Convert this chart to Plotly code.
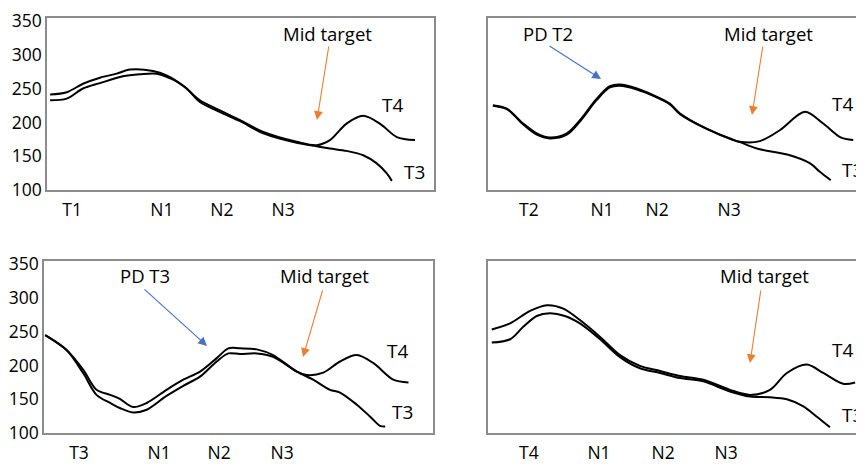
import plotly.graph_objects as go

# ---------------- data (x = relative position along the pathway, 0-100; y = value) ----------------
p1_x_a = [0.8, 5.1, 9.3, 13.7, 18.0, 21.4, 27.4, 30.9, 35.1, 39.5, 44.7, 49.9, 55.9, 64.5, 69.7, 73.1, 77.4, 81.7, 86.0, 90.4, 95.1]
p1_y_a = [241.5, 245.0, 257.5, 266.5, 272.5, 278.5, 276.5, 270.0, 255.0, 233.0, 218.0, 203.5, 186.0, 171.5, 166.5, 174.0, 198.5, 210.0, 198.5, 178.5, 174.0]
p1_x_b = [0.8, 5.1, 9.3, 13.7, 19.6, 24.0, 28.3, 32.6, 36.1, 39.5, 44.7, 49.9, 55.9, 64.5, 69.7, 73.1, 77.4, 81.7, 85.2, 87.8, 89.1]
p1_y_b = [233.0, 235.5, 250.5, 258.5, 268.5, 271.5, 272.5, 263.5, 250.5, 230.5, 215.5, 202.0, 184.0, 170.0, 165.0, 161.5, 158.0, 151.5, 139.5, 124.5, 113.5]
p1_ticks = [6.5, 29.7, 45.2, 61.0]
p1_text = ["T1", "N1", "N2", "N3"]

p2_x_a = [1.3, 5.0, 9.4, 13.0, 16.5, 21.0, 24.5, 29.0, 32.5, 35.2, 39.7, 44.1, 48.5, 51.2, 58.3, 65.4, 67.2, 72.5, 77.9, 84.5, 89.4, 93.9, 97.4]
p2_y_a = [225.5, 220.5, 198.5, 184.0, 178.0, 184.0, 203.5, 235.5, 254.0, 256.5, 250.5, 240.5, 228.0, 213.5, 191.0, 174.5, 171.5, 172.5, 189.0, 216.0, 198.5, 178.5, 174.0]
p2_x_b = [1.3, 5.0, 9.4, 13.0, 16.5, 21.0, 24.5, 29.0, 32.5, 35.2, 39.7, 44.1, 48.5, 51.2, 58.3, 65.4, 67.2, 71.7, 80.5, 85.9, 88.5, 91.4]
p2_y_b = [225.0, 220.0, 197.0, 182.0, 176.5, 182.0, 201.5, 233.5, 252.0, 254.5, 249.0, 239.5, 227.0, 212.5, 190.5, 174.0, 171.0, 161.5, 151.5, 139.5, 127.0, 114.5]
p2_ticks = [10.9, 30.4, 45.1, 64.3]
p2_text = ["T2", "N1", "N2", "N3"]

p3_x_a = [0.3, 5.8, 10.1, 13.5, 17.0, 19.5, 22.9, 26.4, 31.5, 35.8, 40.1, 44.4, 47.4, 50.4, 54.7, 58.9, 65.0, 67.5, 71.8, 76.1, 80.4, 84.7, 89.8, 93.7]
p3_y_a = [245.0, 223.0, 193.5, 164.0, 156.5, 150.5, 138.5, 144.5, 164.0, 179.0, 191.0, 211.0, 225.5, 225.5, 224.0, 215.5, 191.0, 186.0, 189.5, 206.0, 215.5, 203.5, 179.0, 175.0]
p3_x_b = [0.3, 5.8, 10.1, 13.5, 17.0, 19.5, 22.9, 26.4, 31.5, 35.8, 40.1, 44.4, 47.4, 50.4, 54.7, 58.9, 65.0, 69.2, 73.5, 76.1, 80.4, 83.8, 86.4, 87.7]
p3_y_b = [245.0, 223.0, 188.5, 156.5, 144.5, 137.0, 130.5, 134.5, 155.0, 170.0, 183.5, 206.0, 218.0, 217.0, 218.0, 213.0, 191.0, 179.0, 164.0, 160.0, 142.0, 124.5, 110.5, 109.5]
p3_ticks = [9.0, 29.6, 45.0, 61.2]
p3_text = ["T3", "N1", "N2", "N3"]

p4_x_a = [1.0, 5.9, 11.2, 15.7, 20.1, 24.5, 29.9, 35.2, 40.5, 45.9, 51.2, 57.4, 64.5, 69.9, 75.2, 79.7, 85.0, 89.4, 94.7, 97.9]
p4_y_a = [253.5, 262.5, 281.0, 289.5, 284.5, 267.5, 242.5, 215.5, 199.5, 192.0, 184.5, 179.0, 164.0, 156.5, 164.0, 189.0, 201.5, 189.0, 173.0, 175.0]
p4_x_b = [1.0, 5.9, 9.4, 13.0, 16.5, 20.5, 24.5, 29.9, 35.2, 40.5, 45.9, 51.2, 57.4, 64.5, 69.9, 75.2, 79.7, 84.1, 87.6, 91.2]
p4_y_b = [234.0, 239.0, 257.5, 273.5, 277.5, 273.5, 262.5, 239.0, 212.5, 196.0, 189.0, 181.5, 176.5, 161.5, 154.0, 153.0, 150.0, 139.5, 124.5, 108.5]
p4_ticks = [10.9, 29.6, 46.7, 63.5]
p4_text = ["T4", "N1", "N2", "N3"]

y_ticks = [100, 150, 200, 250, 300, 350]

# ---------------- figure ----------------
W, H = 864, 464
OFF = 8  # page body margin
FONT = "Open Sans"
fig = go.Figure()

def px2x(px):
    return (px - OFF) / W

def px2y(py):
    return 1 - (py - OFF) / H

panels = [
    (p1_x_a, p1_y_a, p1_x_b, p1_y_b, p1_ticks, p1_text, (47, 434), (18, 190), True),
    (p2_x_a, p2_y_a, p2_x_b, p2_y_b, p2_ticks, p2_text, (488, 863), (18, 190), False),
    (p3_x_a, p3_y_a, p3_x_b, p3_y_b, p3_ticks, p3_text, (44, 433), (261, 433), True),
    (p4_x_a, p4_y_a, p4_x_b, p4_y_b, p4_ticks, p4_text, (488, 863), (261, 433), False),
]

for i, (xa, ya, xb, yb, tv, tt, (x0, x1), (yt, yb_px), show_y) in enumerate(panels, start=1):
    xs = "" if i == 1 else str(i)
    for xx, yy in ((xa, ya), (xb, yb)):
        fig.add_trace(go.Scatter(x=xx, y=yy, mode="lines",
                                 line=dict(color="black", width=2, shape="spline", smoothing=0.9),
                                 xaxis="x" + xs, yaxis="y" + xs, showlegend=False, hoverinfo="skip"))
    fig.layout["xaxis" + xs] = dict(
        domain=[px2x(x0), min(1.0, px2x(x1))], range=[0, 100], anchor="y" + xs,
        automargin=False, ticklabeloverflow="allow",
        showgrid=False, zeroline=False, showline=True, mirror=True,
        linecolor="#8c8c8c", linewidth=1.5,
        tickvals=tv, ticktext=tt, ticks="outside", ticklen=3, tickcolor="rgba(0,0,0,0)",
        tickfont=dict(family=FONT, size=17.5, color="black"))
    fig.layout["yaxis" + xs] = dict(
        domain=[px2y(yb_px), px2y(yt)], range=[100, 355], anchor="x" + xs,
        automargin=False, ticklabeloverflow="allow",
        showgrid=False, zeroline=False, showline=True, mirror=True,
        linecolor="#8c8c8c", linewidth=1.5,
        tickvals=y_ticks if show_y else [], ticks="",
        showticklabels=show_y,
        tickfont=dict(family=FONT, size=17.5, color="black"))

ORANGE = "#ED7D31"
BLUE = "#4472C4"

def label(text, px, py, size=18.5):
    fig.add_annotation(x=px2x(px), y=px2y(py), xref="paper", yref="paper", text=text,
                       showarrow=False, xanchor="center", yanchor="middle",
                       font=dict(family=FONT, size=size, color="black"))

def arrow(tail, head, color):
    fig.add_annotation(x=px2x(head[0]), y=px2y(head[1]), xref="paper", yref="paper", text="",
                       showarrow=True, ax=tail[0] - head[0], ay=tail[1] - head[1],
                       arrowhead=2, arrowsize=1.6, arrowwidth=1.1, arrowcolor=color, standoff=0)

# panel 1
label("Mid target", 327, 33)
arrow((329, 45), (317, 120), ORANGE)
label("T4", 392, 105, 19)
label("T3", 414, 172, 19)
# panel 2
label("PD T2", 548, 33)
arrow((548, 45), (601, 79), BLUE)
label("Mid target", 768, 33)
arrow((763, 45), (752, 115), ORANGE)
label("T4", 842, 104, 19)
label("T3", 852, 170, 19)
# panel 3
label("PD T3", 145, 275)
arrow((143, 288), (207, 346), BLUE)
label("Mid target", 324, 275)
arrow((323, 289), (303, 357), ORANGE)
label("T4", 397, 351, 19)
label("T3", 402, 412, 19)
# panel 4
label("Mid target", 764, 275)
arrow((761, 289), (750, 363), ORANGE)
label("T4", 842, 350, 19)
label("T3", 852, 415, 19)

fig.update_layout(width=W, height=H, margin=dict(l=0, r=0, t=0, b=0, autoexpand=False),
                  paper_bgcolor="white", plot_bgcolor="white")

fig.write_html("out.html")
